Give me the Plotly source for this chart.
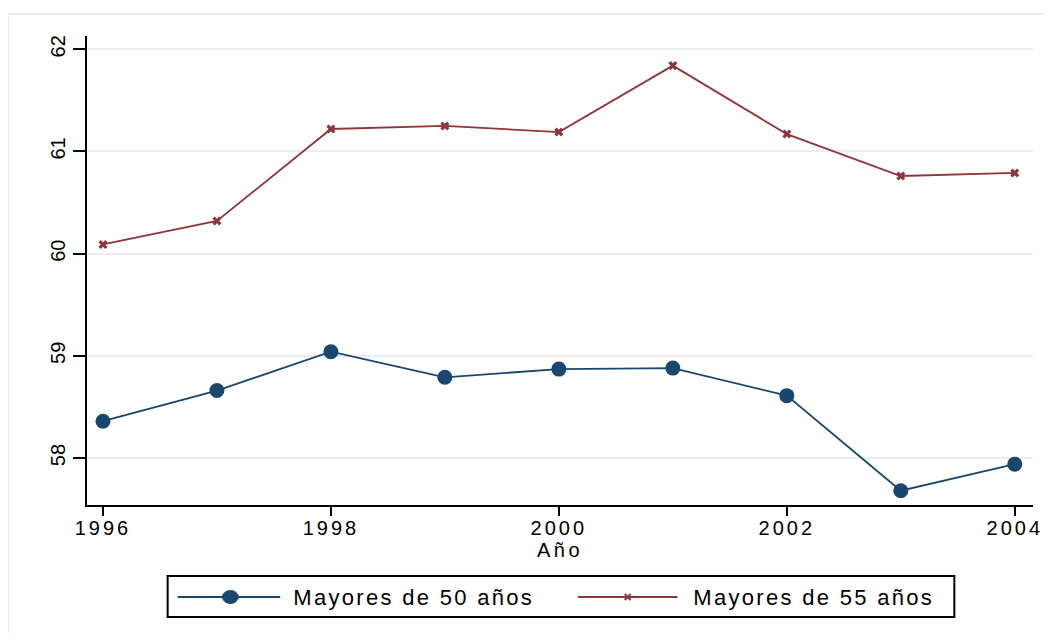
import plotly.graph_objects as go

years = [1996, 1997, 1998, 1999, 2000, 2001, 2002, 2003, 2004]
mayores_50 = [58.36, 58.66, 59.04, 58.79, 58.87, 58.88, 58.61, 57.68, 57.94]
mayores_55 = [60.09, 60.32, 61.22, 61.25, 61.19, 61.84, 61.17, 60.76, 60.79]
x_ticks = [1996, 1998, 2000, 2002, 2004]
y_ticks = [58, 59, 60, 61, 62]
label_50 = "Mayores de 50 años"
label_55 = "Mayores de 55 años"
x_title = "Año"

NAVY = "#1a476f"
MAROON = "#90353b"
GRID = "#e9eff1"
FONT = "Liberation Sans, Arial, sans-serif"

# page has an 8px body margin; work in window coordinates and convert
OFF = 8
W, H = 1052 - 2 * OFF, 641 - 2 * OFF
PL, PR, PT, PB = 87, 1037, 36, 505          # plot area in window pixels
L, T = PL - OFF, PT - OFF
PW, PH = PR - PL, PB - PT
R = W - L - PW
B = H - T - PH


def px(x):
    return (x - PL) / PW


def py(y):
    return (PB - y) / PH


fig = go.Figure()
fig.add_trace(go.Scatter(
    x=years, y=mayores_50, mode="lines+markers", name=label_50,
    line=dict(color=NAVY, width=1.8),
    marker=dict(color=NAVY, size=15, symbol="circle"),
    showlegend=False,
))
fig.add_trace(go.Scatter(
    x=years, y=mayores_55, mode="lines+markers", name=label_55,
    line=dict(color=MAROON, width=1.8),
    marker=dict(color=MAROON, size=8, symbol="x"),
    showlegend=False,
))

shapes = []
annotations = []
# outer graph-region frame
shapes.append(dict(type="rect", xref="paper", yref="paper",
                   x0=px(8), x1=px(1070), y0=py(14), y1=py(660),
                   line=dict(color=GRID, width=2), fillcolor="rgba(0,0,0,0)",
                   layer="below"))
# legend box
shapes.append(dict(type="rect", xref="paper", yref="paper",
                   x0=px(168), x1=px(958), y0=py(576), y1=py(617),
                   line=dict(color="black", width=2), fillcolor="white"))
ly = 597
# entry 1
shapes.append(dict(type="line", xref="paper", yref="paper",
                   x0=px(178), x1=px(281), y0=py(ly), y1=py(ly),
                   line=dict(color=NAVY, width=1.8)))
shapes.append(dict(type="circle", xref="paper", yref="paper",
                   x0=px(223), x1=px(239), y0=py(ly - 6.5), y1=py(ly + 6.5),
                   line=dict(color=NAVY, width=1), fillcolor=NAVY))
annotations.append(dict(text=label_50, xref="paper", yref="paper",
                        x=px(415), y=py(ly), xanchor="center", yanchor="middle",
                        showarrow=False, font=dict(family=FONT, size=22, color="black")))
# entry 2
shapes.append(dict(type="line", xref="paper", yref="paper",
                   x0=px(580), x1=px(680), y0=py(ly), y1=py(ly),
                   line=dict(color=MAROON, width=1.8)))
for dx, dy in [(-3, -3), (-3, 3)]:
    shapes.append(dict(type="line", xref="paper", yref="paper",
                       x0=px(630 + dx), x1=px(630 - dx), y0=py(ly + dy), y1=py(ly - dy),
                       line=dict(color=MAROON, width=2)))
annotations.append(dict(text=label_55, xref="paper", yref="paper",
                        x=px(817), y=py(ly), xanchor="center", yanchor="middle",
                        showarrow=False, font=dict(family=FONT, size=22, color="black")))

fig.update_layout(
    width=W, height=H,
    margin=dict(l=L, r=R, t=T, b=B),
    paper_bgcolor="white", plot_bgcolor="white",
    font=dict(family=FONT, color="black"),
    shapes=shapes, annotations=annotations,
    xaxis=dict(
        range=[1995.86, 2004.16], tickvals=x_ticks,
        ticktext=[str(v) for v in x_ticks],
        showgrid=False, zeroline=False,
        showline=True, linecolor="black", linewidth=2,
        ticks="outside", ticklen=9, tickwidth=1.5, tickcolor="black",
        ticklabelstandoff=-5,
        tickfont=dict(family=FONT, size=20, color="black"),
        title=dict(text=x_title, font=dict(family=FONT, size=20, color="black"), standoff=2),
    ),
    yaxis=dict(
        range=[57.54, 62.13], tickvals=y_ticks,
        showgrid=True, gridcolor=GRID, gridwidth=2, zeroline=False,
        showline=True, linecolor="black", linewidth=2,
        ticks="outside", ticklen=12, tickwidth=1.5, tickcolor="black",
        tickangle=-90,
        tickfont=dict(family=FONT, size=20, color="black"),
    ),
)

spacing_js = (
    "var gd=document.getElementById('{plot_id}');"
    "gd.querySelectorAll('.xtick text').forEach(function(e){e.style.letterSpacing='3px';});"
    "gd.querySelectorAll('.g-xtitle text').forEach(function(e){e.style.letterSpacing='3.5px';});"
    "gd.querySelectorAll('.annotation-text').forEach(function(e){e.style.letterSpacing='2.3px';});"
)

fig.write_html("out.html", post_script=spacing_js)
